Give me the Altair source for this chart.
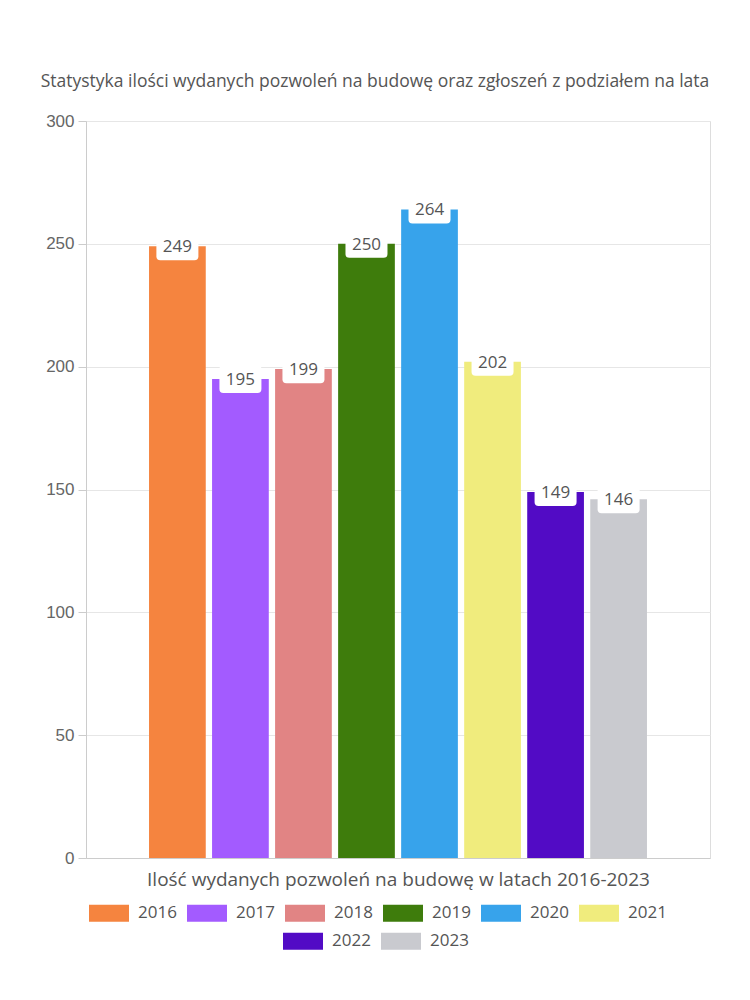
import altair as alt
import pandas as pd

years = ["2016", "2017", "2018", "2019", "2020", "2021", "2022", "2023"]
values = [249, 195, 199, 250, 264, 202, 149, 146]
colors = ["#f5843f", "#a35bff", "#e18484", "#3e7c0c", "#37a3eb", "#f0ec7d", "#520bc5", "#c9cacf"]
row1 = years[:6]
row2 = years[6:]
y_ticks = [0, 50, 100, 150, 200, 250, 300]

title_text = "Statystyka ilości wydanych pozwoleń na budowę oraz zgłoszeń z podziałem na lata"
x_title = "Ilość wydanych pozwoleń na budowę w latach 2016-2023"

FONT = "Open Sans"
df = pd.DataFrame({"rok": years, "ilosc": values})

x = alt.X(
    "rok:N",
    scale=alt.Scale(domain=years, paddingInner=0.1, paddingOuter=1.0),
    axis=alt.Axis(labels=False, ticks=False, domain=True, domainColor="#cccccc",
                  title=x_title, titleFont=FONT, titleFontSize=19, titleColor="#555555",
                  titleFontWeight="normal", titlePadding=12),
)
y = alt.Y(
    "ilosc:Q",
    scale=alt.Scale(domain=[0, 300], nice=False),
    axis=alt.Axis(values=y_ticks, title=None, labelFont="Liberation Sans", labelFontSize=17,
                  labelColor="#666666", tickColor="#cccccc", tickSize=8, labelPadding=4,
                  domainColor="#cccccc", gridColor="#e6e6e6"),
)

legend_common = dict(
    orient="none", direction="horizontal", title=None,
    labelFont=FONT, labelFontSize=17, labelColor="#555555",
    symbolType="M-1,-0.425L1,-0.425L1,0.425L-1,0.425Z", symbolSize=1600,
    symbolStrokeWidth=0, symbolOpacity=1, labelOffset=9, columnPadding=10,
)

base = alt.Chart(df)

bars1 = base.transform_filter(alt.FieldOneOfPredicate(field="rok", oneOf=row1)).mark_bar().encode(
    x=x, y=y,
    color=alt.Color("rok:N", scale=alt.Scale(domain=row1, range=colors[:6]),
                    legend=alt.Legend(legendX=3, legendY=772, **legend_common)),
)
bars2 = base.transform_filter(alt.FieldOneOfPredicate(field="rok", oneOf=row2)).mark_bar().encode(
    x=x, y=y,
    color=alt.Color("rok:N", scale=alt.Scale(domain=row2, range=colors[6:]),
                    legend=alt.Legend(legendX=197, legendY=800, **legend_common)),
)

r = 0.19
hy = 0.667
box_path = (f"M{-1 + r},{-hy}L{1 - r},{-hy}Q1,{-hy} 1,{-hy + r}L1,{hy - r}Q1,{hy} {1 - r},{hy}"
            f"L{-1 + r},{hy}Q-1,{hy} -1,{hy - r}L-1,{-hy + r}Q-1,{-hy} {-1 + r},{-hy}Z")

boxes = base.mark_point(shape=box_path, size=1764, filled=True, fill="white",
                        opacity=1, strokeWidth=0).encode(x=x, y=y)
labels = base.mark_text(font=FONT, fontSize=17, color="#555555", baseline="middle", dy=1).encode(
    x=x, y=y, text="ilosc:Q")

chart = alt.layer(bars1, bars2, boxes, labels).resolve_scale(color="independent").properties(
    width=624, height=737,
    autosize="none",
    padding={"left": 78, "top": 113, "right": 32, "bottom": 130},
    title=alt.TitleParams(title_text, font=FONT, fontSize=17.5, color="#555555",
                          fontWeight="normal", anchor="middle", dx=-23, offset=22),
).configure_view(stroke="#e6e6e6").configure(background="white")

chart.save("out.html", embed_options={"renderer": "svg", "actions": False})
